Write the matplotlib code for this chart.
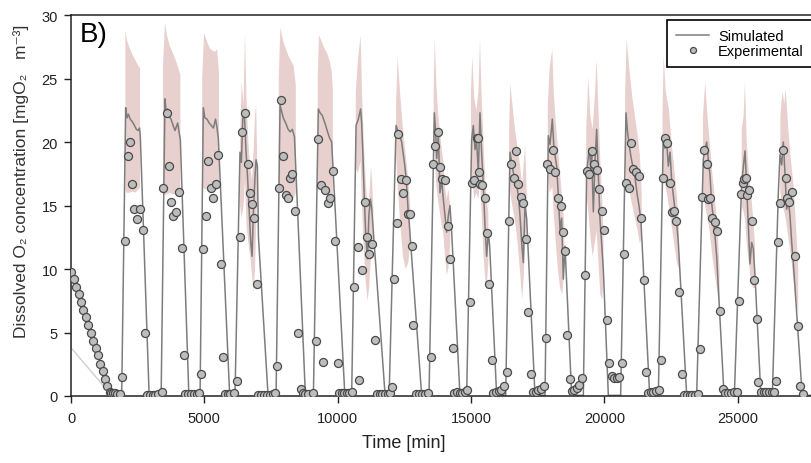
import numpy as np
import matplotlib
matplotlib.use('Agg')
import matplotlib.pyplot as plt

plt.rcParams['font.family'] = ['Liberation Sans', 'DejaVu Sans']

nan = np.nan

# starting segment of the simulation (light line)
init_time = [0, 0, 1500]
init_conc = [9.8, 3.8, 0.1]

# simulated dissolved O2, one row per cycle
sim_time = [1500, 1900, 2050, 2100, 2150, 2220, 2300, 2380, 2450, 2520, 2570, 2600, 2930,
            3380, 3525, 3570, 3620, 3680, 3750, 3830, 3900, 3950, 4000, 4050, 4100, 4420,
            4840, 4962, 5020, 5100, 5180, 5260, 5340, 5420, 5470, 5525, 5950,
            6150, 6337, 6390, 6440, 6500, 6560, 6620, 6680, 6740, 6790, 6840, 6900, 6940, 6990, 7030, 7390,
            7690, 7840, 7900, 7960, 8050, 8140, 8220, 8300, 8380, 8790,
            9090, 9275, 9340, 9420, 9520, 9620, 9700, 9775, 10270,
            10525, 10690, 10775, 10860, 10900, 10940, 11000, 11060, 11120, 11170, 11230, 11280, 11340, 11780,
            11930, 12190, 12270, 12400, 12520, 12580, 12640, 12680, 13150,
            13425, 13625, 13675, 13712, 13775, 13837, 13900, 13962, 14025, 14087, 14150, 14212, 14275, 14587,
            14837, 15025, 15087, 15150, 15212, 15275, 15337, 15400, 15462, 15525, 15587, 15650, 15700, 15962,
            16300, 16462, 16525, 16587, 16650, 16712, 16775, 16837, 16900, 16962, 17025, 17087, 17400,
            17775, 17900, 17962, 18050, 18110, 18212, 18275, 18337, 18400, 18462, 18525, 18775,
            19212, 19337, 19437, 19490, 19525, 19587, 19650, 19712, 19775, 19837, 19900, 19962, 20150,
            20612, 20812, 20870, 20937, 21000, 21087, 21150, 21237, 21300, 21375, 21700,
            22025, 22212, 22275, 22337, 22400, 22462, 22525, 22587, 22650, 22712, 22775, 23087,
            23462, 23712, 23775, 23837, 23900, 23962, 24025, 24087, 24150, 24212, 24275, 24490,
            24875, 25150, 25212, 25275, 25337, 25400, 25462, 25525, 25587, 25650, 25870,
            26300, 26525, 26587, 26650, 26712, 26775, 26837, 26900, 26962, 27025, 27087, 27150, 27420, 28100]
sim_conc = [0.05, 0.05, 22.7, 21.9, 22.2, 21.8, 21.6, 21.3, 21.0, 20.9, 21.1, 20.4, 0.05,
            0.05, 23.4, 22.3, 22.6, 22.0, 21.8, 21.3, 20.9, 21.2, 21.5, 20.8, 20.2, 0.05,
            0.05, 22.7, 21.9, 21.8, 21.5, 21.3, 21.1, 21.8, 21.2, 20.3, 0.05,
            0.05, 19.2, 18.4, 21.8, 22.3, 19.4, 17.3, 14.7, 12.1, 11.0, 14.5, 17.3, 18.6, 18.1, 12.5, 0.05,
            0.05, 22.9, 22.4, 21.9, 21.5, 21.0, 20.8, 21.0, 20.4, 0.05,
            0.05, 22.6, 22.3, 22.1, 21.5, 20.8, 20.3, 20.0, 0.05,
            0.05, 21.3, 21.8, 22.6, 21.5, 19.4, 15.5, 12.4, 10.8, 14.2, 15.5, 14.7, 12.9, 0.05,
            0.05, 21.3, 20.8, 20.0, 18.1, 16.8, 14.7, 13.7, 0.05,
            0.05, 22.3, 20.8, 18.7, 20.5, 16.0, 17.0, 15.5, 14.2, 12.9, 14.2, 15.0, 12.9, 0.05,
            0.05, 20.2, 21.3, 19.4, 20.0, 17.6, 22.3, 19.1, 16.6, 13.4, 11.0, 12.9, 11.8, 0.05,
            0.05, 19.2, 18.4, 17.6, 17.2, 16.6, 15.8, 14.2, 12.1, 10.5, 15.0, 14.0, 0.05,
            0.05, 20.5, 19.8, 21.8, 19.5, 18.1, 15.8, 13.1, 14.0, 9.2, 11.8, 0.05,
            0.05, 17.6, 19.5, 18.0, 19.0, 14.5, 18.5, 21.0, 17.5, 13.9, 12.0, 10.0, 0.05,
            0.05, 22.3, 20.8, 19.7, 18.8, 17.9, 17.2, 15.8, 15.0, 13.7, 0.05,
            0.05, 20.5, 19.5, 20.0, 18.1, 19.2, 17.0, 15.8, 14.7, 13.6, 12.1, 0.05,
            0.05, 18.7, 19.4, 20.0, 18.6, 17.4, 15.2, 14.0, 12.6, 11.0, 8.5, 0.05,
            0.05, 16.8, 18.0, 19.3, 16.5, 13.4, 10.4, 12.1, 11.6, 9.5, 0.05,
            0.05, 16.0, 19.0, 18.2, 20.0, 17.5, 14.7, 15.5, 14.2, 12.1, 10.5, 8.5, 0.05, 0.05]

# measured dissolved O2
exp_time = [0, 112, 200, 287, 375, 462, 562, 650, 737, 825, 925, 1012, 1100, 1187, 1275, 1362, 1450,
            1500, 1580, 1660, 1740, 1820,
            1912, 2037, 2125, 2212, 2300, 2375, 2487, 2587, 2687, 2760, 2860, 2960, 3060, 3160, 3260, 3400,
            3462, 3587, 3687, 3762, 3837, 3925, 4050, 4160, 4225, 4290, 4400, 4510, 4620, 4730, 4800,
            4875, 4962, 5062, 5150, 5237, 5337, 5425, 5525, 5612, 5712, 5790, 5870, 5950, 6100, 6212,
            6337, 6425, 6525, 6625, 6712, 6800, 6875, 6962, 7030, 7140, 7250, 7360, 7470, 7580, 7650,
            7725, 7800, 7875, 7965, 8050, 8140, 8200, 8290, 8400, 8520, 8610, 8687, 8775, 8900, 9062,
            9187, 9275, 9375, 9462, 9525, 9650, 9712, 9812, 9900, 10000, 10062, 10150, 10237, 10337, 10425, 10525,
            10620, 10745, 10812, 10925, 11025, 11112, 11187, 11275, 11400, 11470, 11570, 11670, 11770, 11870, 11960,
            12025, 12100, 12212, 12260, 12362, 12462, 12562, 12650, 12700, 12775, 12837,
            12930, 13040, 13150, 13260, 13370,
            13487, 13562, 13650, 13750, 13837, 13925, 14025, 14125, 14212, 14312,
            14370, 14470, 14570, 14670, 14770, 14840,
            14950, 15025, 15125, 15212, 15262, 15300, 15350, 15400, 15525, 15590, 15675, 15775,
            15825, 15925, 16037, 16137, 16225,
            16337, 16425, 16500, 16612, 16687, 16775, 16862, 16962, 17062, 17150, 17237,
            17330, 17430, 17530, 17640, 17740,
            17800, 17862, 17962, 18062, 18150, 18275, 18362, 18437, 18525, 18612, 18712,
            18790, 18880, 18960, 19050, 19150,
            19275, 19337, 19437, 19525, 19625, 19712, 19812, 19900, 19987, 20087, 20187,
            20275, 20370, 20470, 20560, 20650,
            20737, 20812, 20912, 21000, 21087, 21187, 21287, 21375, 21487, 21562,
            21640, 21740, 21840, 21940, 22040,
            22112, 22187, 22275, 22362, 22462, 22525, 22612, 22675, 22800, 22900,
            23000, 23100, 23200, 23300, 23400, 23500,
            23587, 23675, 23750, 23837, 23900, 23962, 24050, 24150, 24237, 24337, 24437,
            24530, 24640, 24750, 24860, 24970,
            25050, 25125, 25187, 25250, 25300, 25350, 25425, 25525, 25612, 25712, 25775,
            25870, 25970, 26070, 26170, 26270, 26350,
            26425, 26500, 26587, 26700, 26800, 26862, 26937, 27025, 27150, 27250, 27337, 27462]
exp_conc = [9.8, 9.2, 8.6, 8.0, 7.4, 6.8, 6.2, 5.6, 5.0, 4.35, 3.8, 3.2, 2.55, 1.95, 1.35, 0.8, 0.35,
            0.2, 0.2, 0.2, 0.15, 0.15,
            1.5, 12.2, 18.9, 20.0, 16.7, 14.7, 13.9, 14.7, 13.1, 4.95, 0.1, 0.1, 0.1, 0.1, 0.15, 0.35,
            16.4, 22.3, 18.1, 15.3, 14.2, 14.5, 16.1, 11.65, 3.2, 0.15, 0.15, 0.15, 0.15, 0.15, 0.2,
            1.73, 11.6, 14.2, 18.5, 16.35, 15.6, 16.7, 19.0, 10.4, 3.1, 0.15, 0.15, 0.15, 0.2, 1.2,
            12.5, 20.8, 22.3, 18.3, 16.0, 15.1, 14.0, 8.8, 0.1, 0.1, 0.1, 0.1, 0.1, 0.15, 0.2,
            2.34, 16.4, 23.3, 18.9, 15.8, 15.6, 17.2, 17.5, 14.6, 5.0, 0.55, 0.2, 0.15, 0.15, 0.2,
            4.35, 20.2, 16.6, 2.7, 16.2, 15.2, 15.6, 17.7, 12.2, 2.6, 0.2, 0.2, 0.2, 0.2, 0.25, 0.35,
            8.6, 11.7, 1.26, 9.95, 15.3, 12.5, 11.2, 12.0, 4.4, 0.15, 0.15, 0.15, 0.15, 0.15, 0.2,
            0.73, 9.2, 13.6, 20.6, 17.1, 16.0, 17.0, 14.3, 14.3, 11.8, 5.6,
            0.15, 0.15, 0.15, 0.15, 0.2,
            3.1, 18.3, 19.7, 20.8, 18.0, 17.1, 17.0, 13.4, 10.8, 3.8,
            0.2, 0.3, 0.2, 0.25, 0.35, 0.45,
            7.4, 16.8, 17.0, 20.3, 20.3, 17.6, 16.7, 16.6, 15.6, 12.8, 8.8, 2.8,
            0.25, 0.3, 0.4, 0.5, 0.8,
            1.9, 13.8, 18.3, 17.2, 19.3, 16.7, 15.7, 15.2, 12.4, 6.6, 1.7,
            0.3, 0.35, 0.45, 0.55, 0.75,
            4.6, 18.3, 17.9, 19.4, 17.6, 15.6, 15.0, 12.9, 11.4, 4.8, 1.3,
            0.37, 0.45, 0.6, 0.85, 1.4,
            9.5, 17.7, 17.5, 19.3, 18.3, 17.8, 16.3, 14.6, 13.1, 6.0, 2.6,
            1.55, 1.45, 1.4, 1.5, 2.6,
            11.2, 16.8, 16.4, 19.9, 17.9, 17.6, 17.3, 14.0, 9.1, 1.9,
            0.25, 0.3, 0.35, 0.4, 0.5,
            2.8, 17.2, 20.3, 19.9, 16.8, 14.5, 14.6, 13.8, 8.2, 1.7,
            0.1, 0.1, 0.1, 0.1, 0.1, 0.15,
            3.7, 15.7, 19.4, 18.3, 15.5, 15.6, 14.0, 13.7, 13.0, 6.7, 0.55,
            0.2, 0.25, 0.25, 0.3, 0.35,
            7.5, 15.9, 16.8, 17.1, 17.2, 15.8, 16.2, 13.8, 9.1, 6.1, 1.1,
            0.3, 0.3, 0.3, 0.3, 0.35, 0.35,
            1.2, 12.1, 15.2, 19.4, 17.2, 15.6, 15.3, 16.1, 11.0, 5.5, 0.76, 0.15]

# simulation uncertainty band (nan separates cycles)
band_time = [2040, 2100, 2200, 2300, 2400, 2500, 2590, nan,
             3450, 3525, 3600, 3700, 3800, 3900, 4000, 4100, nan,
             4920, 4990, 5100, 5200, 5300, 5400, 5480, 5550, nan,
             6340, 6400, 6470, 6525, 6580, 6650, 6720, 6790, 6850, 6900, 6940, 6985, nan,
             7790, 7850, 7950, 8050, 8150, 8250, 8350, 8430, nan,
             9250, 9300, 9400, 9500, 9600, 9700, 9780, 9820, nan,
             10680, 10760, 10860, 10920, 10980, 11050, 11120, 11180, 11250, 11290, 11340, nan,
             12190, 12250, 12350, 12450, 12550, 12650, 12720, nan,
             13600, 13640, 13700, 13760, 13830, 13900, 13960, 14025, 14090, 14150, 14220, nan,
             15000, 15050, 15120, 15200, 15280, 15337, 15400, 15460, 15520, 15580, 15650, nan,
             16430, 16470, 16550, 16650, 16750, 16850, 16920, 16980, 17030, 17090, nan,
             17880, 17950, 18050, 18100, 18180, 18260, 18340, 18420, 18500, nan,
             19320, 19400, 19480, 19560, 19640, 19712, 19780, 19850, 19920, 19970, nan,
             20780, 20837, 20950, 21050, 21150, 21250, 21330, 21400, nan,
             22180, 22225, 22300, 22420, 22520, 22620, 22720, 22800, nan,
             23700, 23780, 23870, 23950, 24050, 24150, 24250, 24320, nan,
             25150, 25220, 25275, 25340, 25420, 25500, 25580, 25650, nan,
             26600, 26680, 26750, 26800, 26900, 27000, 27100, 27200, 27270]
band_high = [28.8, 28.0, 27.4, 26.9, 26.5, 26.1, 25.8, nan,
             26.0, 29.4, 28.4, 27.6, 27.1, 26.6, 26.0, 25.3, nan,
             25.0, 28.6, 27.9, 27.4, 27.2, 27.1, 27.3, 25.5, nan,
             20.0, 24.7, 23.0, 28.6, 23.5, 20.0, 18.0, 17.0, 19.5, 22.0, 23.0, 18.5, nan,
             25.0, 29.0, 28.0, 27.4, 26.8, 26.4, 26.0, 24.5, nan,
             25.0, 28.4, 27.9, 27.4, 27.0, 26.4, 25.5, 24.0, nan,
             24.0, 26.5, 28.4, 23.5, 20.0, 17.0, 15.0, 15.5, 18.1, 17.0, 14.5, nan,
             23.0, 26.7, 23.6, 21.0, 19.0, 17.0, 15.0, nan,
             24.0, 28.2, 24.7, 22.4, 21.0, 19.5, 18.5, 16.5, 15.5, 16.3, 15.0, nan,
             24.0, 26.8, 23.5, 22.5, 24.0, 28.1, 23.5, 20.5, 17.5, 15.5, 14.5, nan,
             21.0, 24.6, 23.0, 21.0, 19.5, 18.0, 16.5, 18.5, 19.7, 16.0, nan,
             23.0, 25.9, 27.3, 24.0, 21.5, 19.5, 17.5, 15.5, 13.5, nan,
             21.0, 25.1, 22.0, 21.0, 23.5, 26.5, 22.5, 18.5, 15.5, 13.0, nan,
             24.0, 28.1, 25.5, 23.5, 22.0, 20.5, 19.0, 16.0, nan,
             22.0, 26.8, 24.0, 22.6, 20.0, 18.0, 15.8, 13.5, nan,
             22.0, 24.7, 22.0, 20.0, 17.5, 15.5, 13.0, 10.0, nan,
             21.0, 22.0, 24.7, 20.0, 17.5, 16.0, 14.0, 12.0, nan,
             22.0, 24.0, 23.0, 24.2, 21.0, 18.5, 16.5, 13.0, 10.0]
band_low = [16.2, 16.0, 16.0, 16.1, 16.0, 16.2, 16.4, nan,
            16.0, 15.8, 15.9, 16.0, 15.9, 15.9, 16.0, 16.2, nan,
            16.5, 16.3, 16.3, 16.3, 16.3, 16.2, 16.2, 16.5, nan,
            15.0, 14.0, 15.0, 17.0, 13.5, 12.1, 11.0, 9.5, 8.2, 10.0, 13.0, 16.0, nan,
            16.5, 16.2, 16.0, 15.9, 15.7, 15.5, 15.6, 16.0, nan,
            17.0, 16.5, 16.2, 16.0, 15.9, 15.7, 15.5, 16.0, nan,
            18.0, 17.5, 18.5, 14.5, 11.5, 9.0, 7.5, 8.5, 11.0, 12.0, 12.5, nan,
            19.0, 16.5, 13.5, 11.0, 10.0, 10.5, 12.0, nan,
            20.0, 19.0, 16.5, 15.5, 14.5, 13.5, 12.9, 11.0, 9.5, 10.0, 12.0, nan,
            18.0, 17.0, 15.5, 16.0, 15.5, 17.0, 14.5, 11.5, 9.5, 8.2, 10.5, nan,
            17.0, 16.0, 15.0, 13.8, 12.0, 9.5, 7.6, 9.5, 12.0, 13.0, nan,
            18.0, 16.0, 16.5, 14.5, 12.0, 10.0, 8.5, 8.0, 10.0, nan,
            16.0, 14.5, 12.5, 11.0, 12.0, 13.0, 10.5, 8.0, 7.6, 9.0, nan,
            18.0, 17.0, 16.0, 15.0, 14.0, 13.0, 12.0, 12.5, nan,
            17.0, 17.0, 16.5, 15.0, 13.5, 12.0, 10.5, 10.0, nan,
            16.0, 15.0, 14.0, 13.0, 11.0, 9.5, 8.0, 7.0, nan,
            15.0, 14.5, 14.0, 12.0, 10.5, 9.0, 8.5, 8.5, nan,
            16.0, 15.0, 14.5, 14.0, 12.5, 11.0, 9.0, 7.5, 6.5]

fig = plt.figure(figsize=(8.11, 4.64), dpi=100)
ax = fig.add_axes([71 / 811, 67 / 464, 749 / 811, 381 / 464])

ax.fill_between(band_time, band_low, band_high, color='#e8d0ce', linewidth=0, zorder=1)
ax.plot(init_time, init_conc, color='#cfcfcf', linewidth=1.0, zorder=2)
ax.plot(sim_time, sim_conc, color='#7d7d7d', linewidth=1.1, zorder=2, label='Simulated')
ax.plot(exp_time, exp_conc, linestyle='none', marker='o', markersize=5.8,
        markerfacecolor='#bdbdbd', markeredgecolor='#4a4a4a', markeredgewidth=0.9,
        zorder=3, label='Experimental')

ax.set_xlim(0, (820 - 71) * 37.5)
ax.set_ylim(0, 30)
ax.set_xticks([0, 5000, 10000, 15000, 20000, 25000])
ax.set_yticks([0, 5, 10, 15, 20, 25, 30])
ax.tick_params(direction='out', length=5, width=1, labelsize=10.5, colors='#222222')
ax.tick_params(axis='x', pad=5.5)
ax.tick_params(axis='y', pad=4.5)
for side in ['left', 'bottom', 'top']:
    ax.spines[side].set_linewidth(1.1)
    ax.spines[side].set_color('#222222')
ax.spines['right'].set_visible(False)

ax.set_xlabel('Time [min]', fontsize=13, color='#222222')
ax.xaxis.set_label_coords((404 - 71) / 749, -0.10)
ax.set_ylabel('Dissolved O\u2082 concentration [mgO\u2082   m\u207b\u00b3]', fontsize=12.5,
              color='#333333')
ax.yaxis.set_label_coords(-0.056, 0.567)

ax.text(80 / 811, 1 - 22 / 464, 'B)', transform=fig.transFigure, fontsize=20,
        ha='left', va='top')

leg = ax.legend(loc='upper left', bbox_to_anchor=(667 / 811, 1 - 21 / 464),
                bbox_transform=fig.transFigure, borderaxespad=0, fancybox=False,
                edgecolor='black', framealpha=1, fontsize=10.5, handlelength=2.3,
                handletextpad=0.6, borderpad=0.6, labelspacing=0.1, markerscale=0.75)
leg.get_frame().set_linewidth(1.2)

fig.savefig('out.png', dpi=100)
